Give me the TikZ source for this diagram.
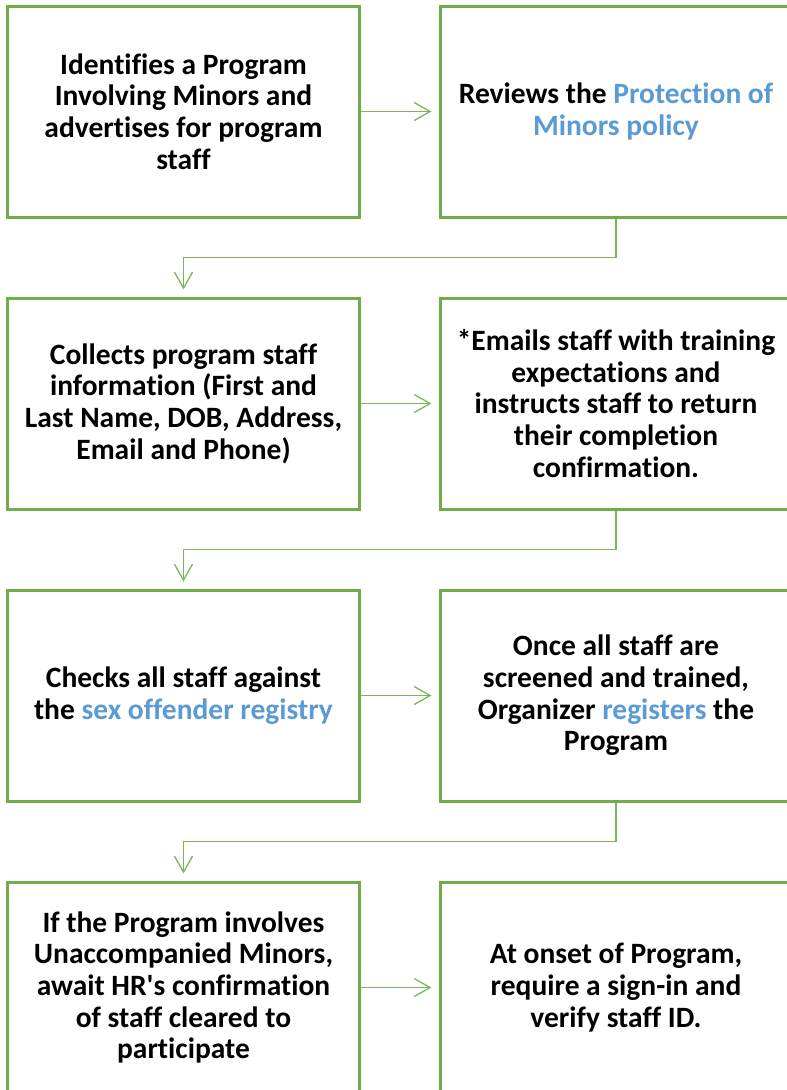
\documentclass[tikz,border=0pt]{standalone}
\usepackage{fontspec}
\setmainfont[Ligatures=CommonOff]{Carlito}
\usepackage{tikz}
\usetikzlibrary{arrows.meta, calc}

\definecolor{boxgreen}{HTML}{70AD47}
\definecolor{linkgreen}{HTML}{7DB65A}
\definecolor{linkblue}{HTML}{5B9BD5}

\begin{document}
\begin{tikzpicture}[
  x=1pt, y=-1pt,
  stepbox/.style={draw=boxgreen, line width=3pt, minimum width=352pt, minimum height=211pt,
    inner sep=0pt, align=center, font={\fontsize{29.5pt}{31.7pt}\selectfont\bfseries}},
  flow/.style={draw=linkgreen, line width=1.3pt, shorten >=7pt,
    -{Straight Barb[length=16pt, width=18pt, line width=1.3pt]}}
]
  \clip (0,0) rectangle (787,1090);

  \node[stepbox] (l1) at (183.5, 111.5) {Identifies a Program\\Involving Minors and\\advertises for program\\staff};
  \node[stepbox] (r1) at (616, 111.5) {Reviews the \textcolor{linkblue}{Protection of}\\\textcolor{linkblue}{Minors policy}};

  \node[stepbox] (l2) at (183.5, 403.5) {Collects program staff\\information (First and\\Last Name, DOB, Address,\\Email and Phone)};
  \node[stepbox] (r2) at (616, 403.5) {*Emails staff with training\\expectations and\\instructs staff to return\\their completion\\confirmation.};

  \node[stepbox] (l3) at (183.5, 695.5) {Checks all staff against\\the \textcolor{linkblue}{sex offender registry}};
  \node[stepbox] (r3) at (616, 695.5) {Once all staff are\\screened and trained,\\Organizer \textcolor{linkblue}{registers} the\\Program};

  \node[stepbox] (l4) at (183.5, 987.5) {If the Program involves\\Unaccompanied Minors,\\await HR\textquotesingle s confirmation\\of staff cleared to\\participate};
  \node[stepbox] (r4) at (616, 987.5) {At onset of Program,\\require a sign-in and\\verify staff ID.};

  % across each row
  \foreach \n in {1,2,3,4}
    \draw[flow] (l\n.east) -- (r\n.west);

  % down to the next row
  \foreach \n/\m in {1/2, 2/3, 3/4}
    \draw[flow] (r\n.south) |- ($(r\n.south)!0.5!(l\m.north)$) -| (l\m.north);
\end{tikzpicture}
\end{document}
